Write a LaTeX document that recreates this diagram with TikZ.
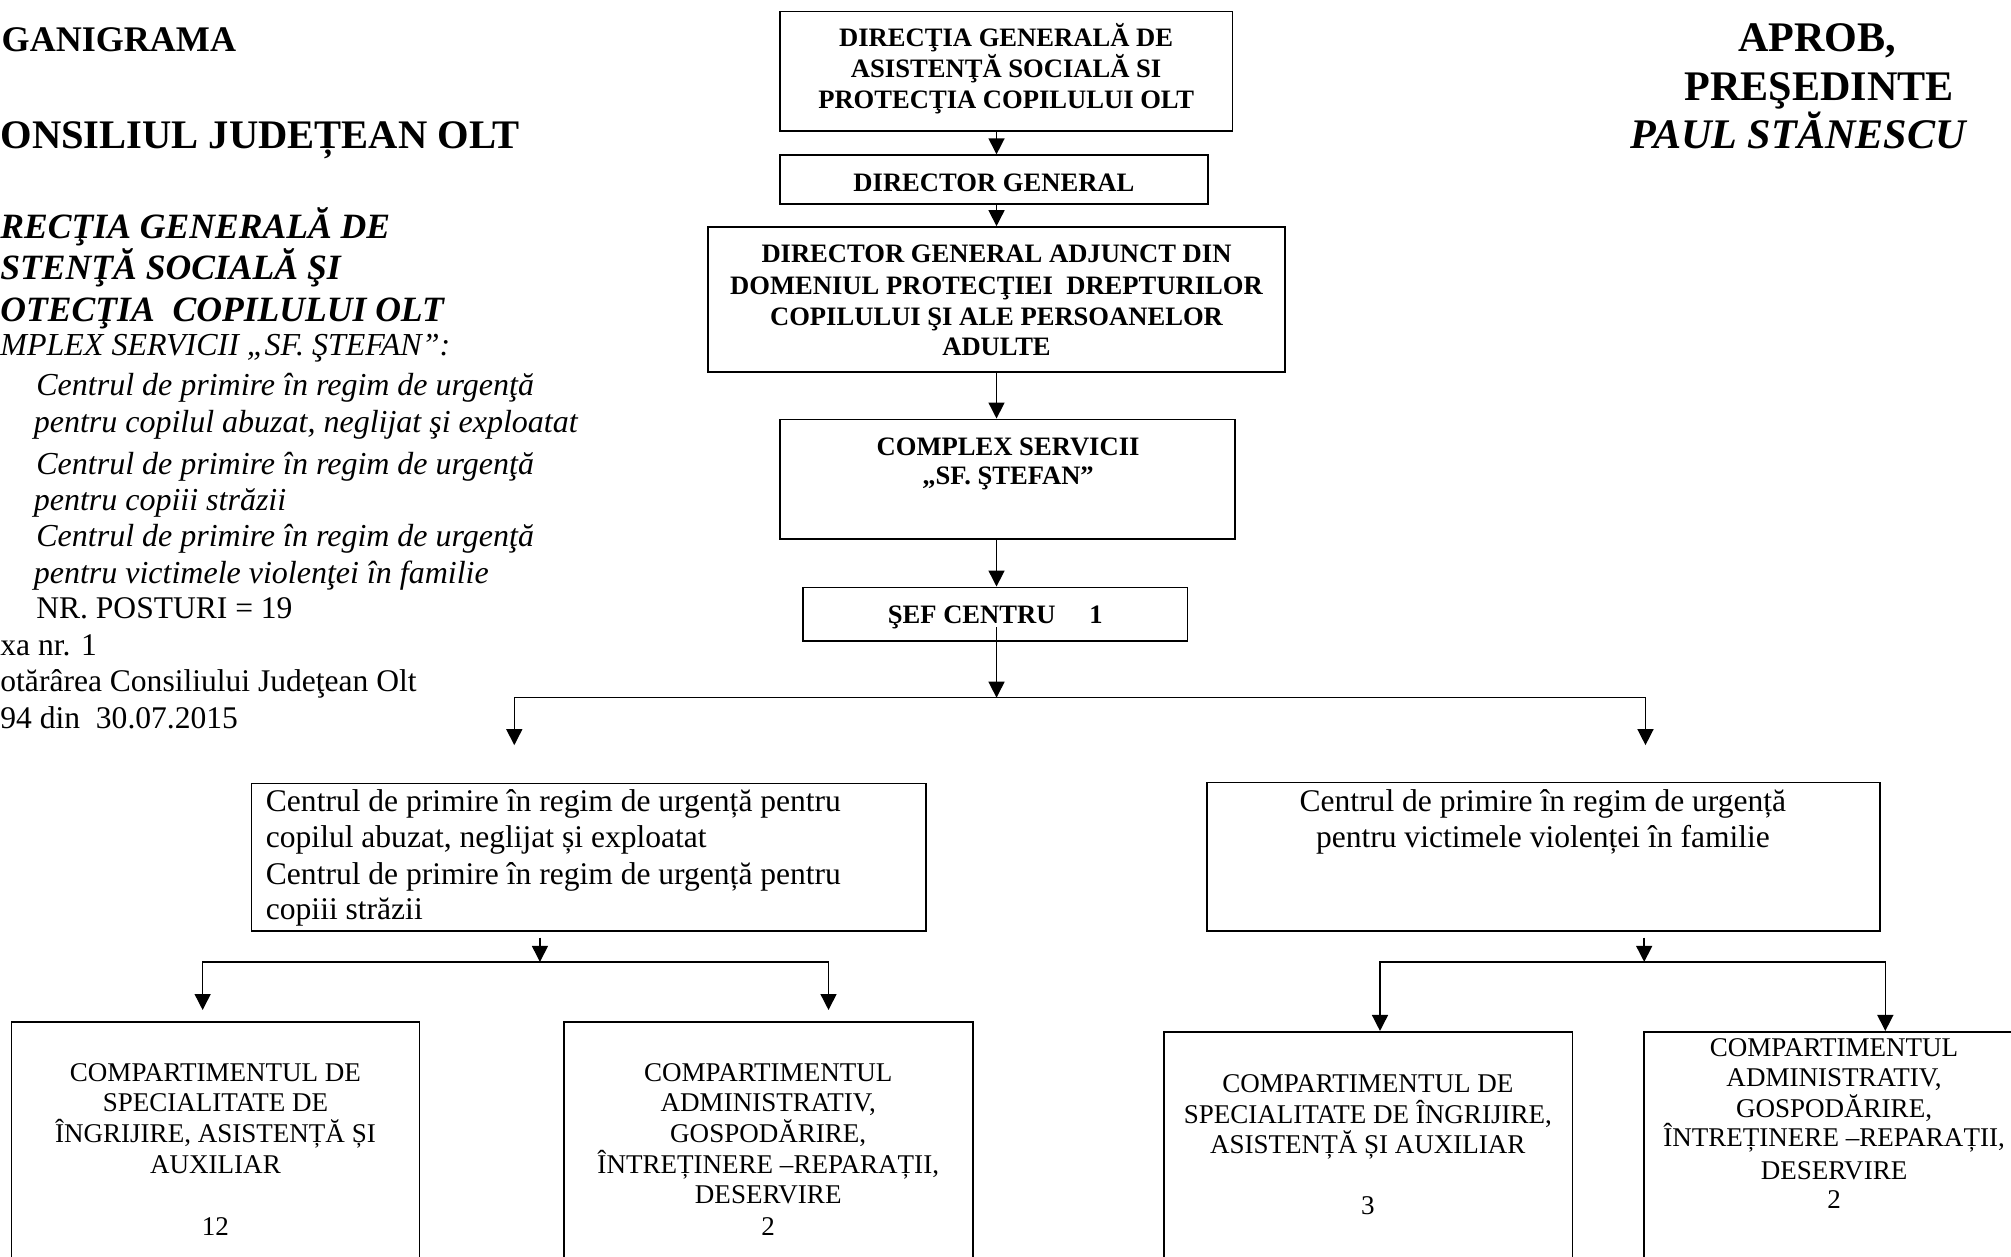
\documentclass[tikz,border=0pt]{standalone}
\usepackage{fontspec}
\setmainfont{Liberation Serif}
\usetikzlibrary{arrows.meta,fit}
\newcommand\fHdA{\fontsize{16}{18}\selectfont\bfseries}
\newcommand\fHdB{\fontsize{18}{20}\selectfont\bfseries}
\newcommand\fHdC{\fontsize{15.8}{18}\selectfont\bfseries\itshape}
\newcommand\fIt{\fontsize{14.2}{16}\selectfont\itshape}
\newcommand\fUp{\fontsize{14}{16}\selectfont}
\newcommand\fBx{\fontsize{11.8}{13.7}\selectfont\bfseries}
\newcommand\fSm{\fontsize{12}{13.7}\selectfont}
\newcommand\fAp{\fontsize{18.7}{21}\selectfont\bfseries}
\begin{document}
\begin{tikzpicture}[x=0.02cm,y=-0.02cm]
\tikzset{
  box/.style={draw, line width=0.75pt, inner sep=0pt},
  arr/.style={line width=0.65pt, -{Triangle[length=7.1pt,width=7.1pt]}},
  ln/.style={line width=0.65pt, line cap=rect},
  tl/.style={inner sep=0pt, anchor=base west},
  tc/.style={inner sep=0pt, anchor=base},
}
\useasboundingbox (0,0) rectangle (1568,980);
\clip (0,0) rectangle (1568,980);

% ---------- left header ----------
\node[tl, font=\fHdA] (h1) at (1,40.5) {GANIGRAMA};
\node[tl, font=\fHdB] (h2) at (0,116) {ONSILIUL JUDEȚEAN OLT};
\node[tl, font=\fHdC] (h3) at (0,186) {RECŢIA GENERALĂ DE};
\node[tl, font=\fHdC] (h4) at (0,218) {STENŢĂ SOCIALĂ ŞI};
\node[tl, font=\fHdC] (h5) at (0,251) {OTECŢIA\ \ COPILULUI OLT};
\node[tl, font=\fIt] (h6) at (0,277) {MPLEX SERVICII „SF. ŞTEFAN”:};
\node[tl, font=\fIt] (h7) at (28,308) {Centrul de primire în regim de urgenţă};
\node[tl, font=\fIt] (h8) at (26,337) {pentru copilul abuzat, neglijat şi exploatat};
\node[tl, font=\fIt] (h9) at (28,370) {Centrul de primire în regim de urgenţă};
\node[tl, font=\fIt] (h10) at (26,398) {pentru copiii străzii};
\node[tl, font=\fIt] (h11) at (28,426) {Centrul de primire în regim de urgenţă};
\node[tl, font=\fIt] (h12) at (26,455) {pentru victimele violenţei în familie};
\node[tl, font=\fUp] (h13) at (28,482) {NR. POSTURI = 19};
\node[tl, font=\fUp] (h14) at (0,511) {xa nr. 1};
\node[tl, font=\fUp] (h15) at (0,539) {otărârea Consiliului Judeţean Olt};
\node[tl, font=\fUp] (h16) at (0,568) {94 din\ \ 30.07.2015};

% ---------- right header ----------
\node[tc, font=\fAp] (a1) at (1417,40.5) {APROB,};
\node[tc, font=\fAp] (a2) at (1418.5,78) {PREŞEDINTE};
\node[tc, font=\fAp\itshape] (a3) at (1402,115.6) {PAUL STĂNESCU};

% ---------- boxes ----------
\node[box, fit={(608,9) (961,102)}] (top) {};
\node[box, fit={(608,121) (942,159)}] (dg) {};
\node[box, fit={(552,177) (1002,290)}] (dga) {};
\node[box, fit={(608,327) (963,420)}] (cs) {};
\node[box, fit={(626,458) (926,500)}] (sef) {};
\node[box, fit={(196,611) (722,726)}] (cl) {};
\node[box, fit={(941,610) (1466,726)}] (cr) {};
\node[box, fit={(9,797) (327,1000)}] (ba) {};
\node[box, fit={(440,797) (758.5,1000)}] (bb) {};
\node[box, fit={(907.5,804.5) (1226,1000)}] (bc) {};
\node[box, fit={(1282,804.5) (1600,1000)}] (bd) {};

% ---------- box texts ----------
\node[tc, font=\fBx] (t1) at (784.5,36.4) {DIRECŢIA GENERALĂ DE};
\node[tc, font=\fBx] (t2) at (784.5,60.3) {ASISTENŢĂ SOCIALĂ SI};
\node[tc, font=\fBx] (t3) at (784.5,84.5) {PROTECŢIA COPILULUI OLT};
\node[tc, font=\fBx] (t4) at (775,149.5) {DIRECTOR GENERAL};
\node[tc, font=\fBx] (t5) at (777,205) {DIRECTOR GENERAL ADJUNCT DIN};
\node[tc, font=\fBx] (t6) at (777,230) {DOMENIUL PROTECŢIEI\ \ DREPTURILOR};
\node[tc, font=\fBx] (t7) at (777,253.5) {COPILULUI ŞI ALE PERSOANELOR};
\node[tc, font=\fBx] (t8) at (777,277) {ADULTE};
\node[tc, font=\fBx] (t9) at (786,355) {COMPLEX SERVICII};
\node[tc, font=\fBx] (t10) at (786,378) {„SF. ŞTEFAN”};
\node[tc, font=\fBx] (t11) at (776,486) {ŞEF CENTRU\hspace{15pt}1};

\node[tl, font=\fUp] (t12) at (207,633) {Centrul de primire în regim de urgență pentru};
\node[tl, font=\fUp] (t13) at (207,661) {copilul abuzat, neglijat și exploatat};
\node[tl, font=\fUp] (t14) at (207,690) {Centrul de primire în regim de urgență pentru};
\node[tl, font=\fUp] (t15) at (207,717) {copiii străzii};
\node[tc, font=\fUp] (t16) at (1203,633) {Centrul de primire în regim de urgență};
\node[tc, font=\fUp] (t17) at (1203,661) {pentru victimele violenței în familie};

\node[tc, font=\fSm] (a1t) at (168,843.5) {COMPARTIMENTUL DE};
\node[tc, font=\fSm] (a2t) at (168,867) {SPECIALITATE DE};
\node[tc, font=\fSm] (a3t) at (168,891) {ÎNGRIJIRE, ASISTENȚĂ ȘI};
\node[tc, font=\fSm] (a4t) at (168,915) {AUXILIAR};
\node[tc, font=\fSm] (a5t) at (168,963) {12};

\node[tc, font=\fSm] (b1t) at (599,843.5) {COMPARTIMENTUL};
\node[tc, font=\fSm] (b2t) at (599,867) {ADMINISTRATIV,};
\node[tc, font=\fSm] (b3t) at (599,891) {GOSPODĂRIRE,};
\node[tc, font=\fSm] (b4t) at (599,915) {ÎNTREȚINERE –REPARAȚII,};
\node[tc, font=\fSm] (b5t) at (599,938) {DESERVIRE};
\node[tc, font=\fSm] (b6t) at (599,963) {2};

\node[tc, font=\fSm] (c1t) at (1066.5,852) {COMPARTIMENTUL DE};
\node[tc, font=\fSm] (c2t) at (1066.5,876) {SPECIALITATE DE ÎNGRIJIRE,};
\node[tc, font=\fSm] (c3t) at (1066.5,899) {ASISTENȚĂ ȘI AUXILIAR};
\node[tc, font=\fSm] (c4t) at (1066.5,947) {3};

\node[tc, font=\fSm] (d1t) at (1430,824) {COMPARTIMENTUL};
\node[tc, font=\fSm] (d2t) at (1430,847.5) {ADMINISTRATIV,};
\node[tc, font=\fSm] (d3t) at (1430,871) {GOSPODĂRIRE,};
\node[tc, font=\fSm] (d4t) at (1430,894) {ÎNTREȚINERE –REPARAȚII,};
\node[tc, font=\fSm] (d5t) at (1430,920) {DESERVIRE};
\node[tc, font=\fSm] (d6t) at (1430,942) {2};

% ---------- connectors ----------
\coordinate (spine) at (777,0);
\draw[arr] (spine |- top.south) -- (spine |- dg.north);
\draw[arr] (spine |- dg.south) -- (spine |- dga.north);
\draw[arr] (spine |- dga.south) -- (spine |- cs.north);
\draw[arr] (spine |- cs.south) -- (spine |- sef.north);
\coordinate (sefo) at (777,489);
\coordinate (j1) at (777,544);
\draw[arr] (sefo) -- (j1);
\coordinate (hl) at (401,544);
\coordinate (hr) at (1283,544);
\coordinate (hle) at (401,581);
\coordinate (hre) at (1283,581);
\draw[ln] (hl) -- (hr);
\draw[arr] (hl) -- (hle);
\draw[arr] (hr) -- (hre);

% left branch
\coordinate (l0) at (421,731);
\coordinate (l1) at (421,750);
\draw[arr] (l0) -- (l1);
\coordinate (ll) at (158,750);
\coordinate (lr) at (646,750);
\draw[ln] (ll) -- (lr);
\draw[arr] (ll) -- (ll |- 0,787.5);
\draw[arr] (lr) -- (lr |- 0,787.5);

% right branch
\coordinate (r0) at (1282,731);
\coordinate (r1) at (1282,750);
\draw[arr] (r0) -- (r1);
\coordinate (rl) at (1076,750);
\coordinate (rr) at (1470,750);
\draw[ln] (rl) -- (rr);
\draw[arr] (rl) -- (rl |- bc.north);
\draw[arr] (rr) -- (rr |- bd.north);
\end{tikzpicture}
\end{document}
